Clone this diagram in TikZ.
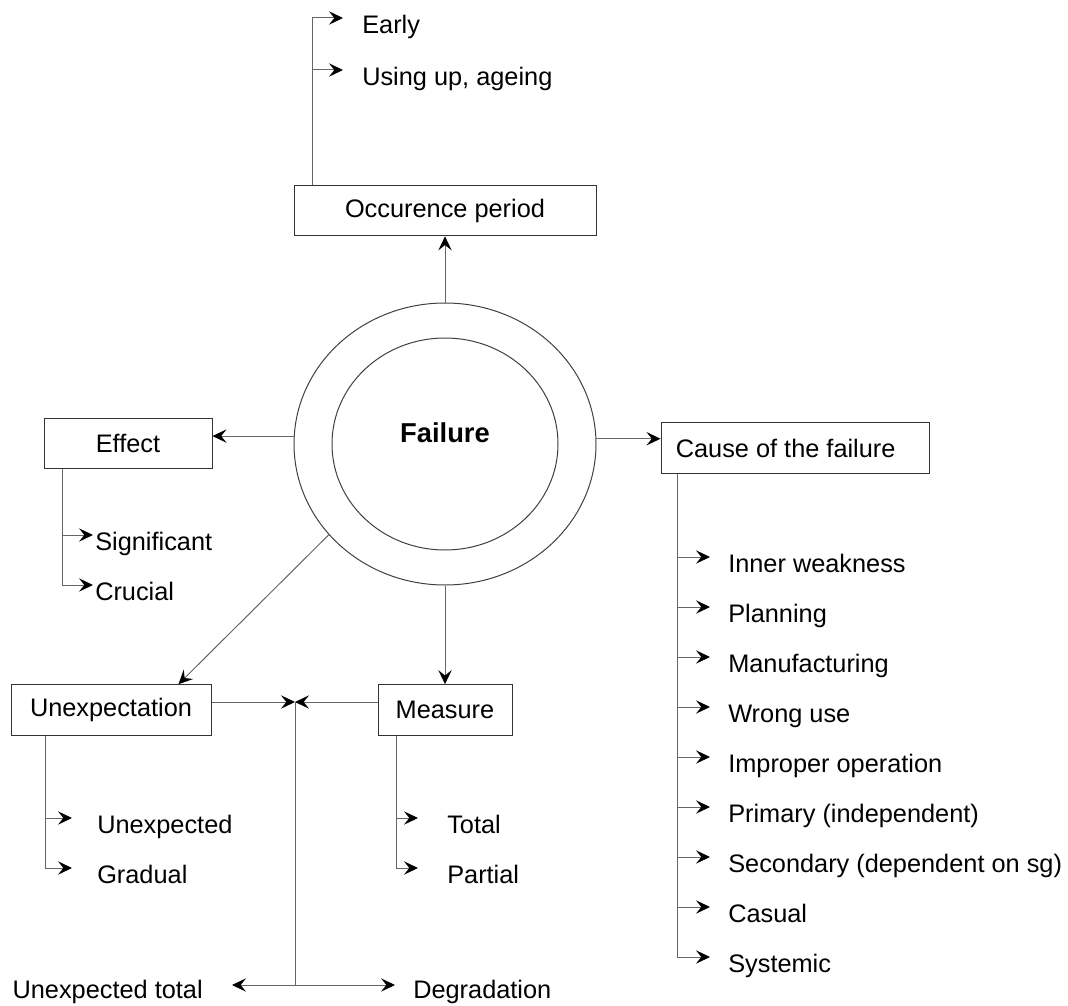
\documentclass[tikz,border=0pt]{standalone}
\usepackage{fontspec}
\setmainfont{Liberation Sans}
\usetikzlibrary{arrows.meta,shapes.geometric,calc}
\begin{document}
\begin{tikzpicture}[x=0.75pt,y=-0.75pt,
  conn/.style={draw=black!60, line width=0.75pt},
  arr/.style={conn, -{Stealth[length=10.5pt,width=10pt,inset=4pt,color=black]}},
  box/.style={draw=black!80, line width=0.75pt, minimum height=38pt, inner sep=0pt,
    font=\fontsize{19}{22}\selectfont},
  ring/.style={draw=black!75, line width=0.75pt, ellipse, inner sep=0pt},
  item/.style={anchor=mid west, inner sep=0pt, font=\fontsize{19}{22}\selectfont},
  itemr/.style={anchor=mid east, inner sep=0pt, font=\fontsize{19}{22}\selectfont}]
\useasboundingbox (0,0) rectangle (1068,1006);

% boxes
\node[box, minimum width=226.5pt] (occ) at (445,210.5) {Occurence period};
\node[box, minimum width=126pt] (eff) at (128,443.5) {Effect};
\node[box, minimum width=201pt] (cause) at (795,448) {Cause of the failure\hspace*{14pt}};
\node[box, minimum width=150pt] (unexp) at (111,710) {Unexpectation};
\node[box, minimum width=100.5pt] (meas) at (445,710) {Measure};

% central rings
\node[ring, minimum width=226.5pt, minimum height=211.5pt] (outer) at (445,444) {};
\node[ring, minimum width=169.5pt, minimum height=159pt] (inner) at (445,444) {};
\node[inner sep=0pt, font=\bfseries\fontsize{20.5}{24}\selectfont] (fail) at (445,433) {Failure};

% connectors from the ring
\draw[arr] (outer.north) -- (occ.south);
\draw[arr] (outer.177) -- (outer.177 -| eff.east);
\draw[arr] (outer.2) -- (outer.2 -| cause.west);
\draw[arr] (outer.218) -- ($(unexp.north east)+(-33,0)$);
\draw[arr] (outer.south) -- (meas.north);

% occurrence period items
\node[item] (early) at (362,30) {Early};
\node[item] (using) at (362,82) {Using up, ageing};
\draw[conn] (occ.north -| 312,0) -- ($(early.mid west)+(-50,-12)$);
\foreach \n in {early,using}
  \draw[arr] ($(\n.mid west)+(-50,-12)$) -- ($(\n.mid west)+(-19,-12)$);

% effect items
\node[item] (signif) at (95,547) {Significant};
\node[item] (cruc) at (95,597) {Crucial};
\draw[conn] (eff.south -| 62,0) -- ($(cruc.mid west)+(-33,-12)$);
\foreach \n in {signif,cruc}
  \draw[arr] ($(\n.mid west)+(-33,-12)$) -- ($(\n.mid west)+(-2,-12)$);

% cause items
\foreach \t [count=\i] in {Inner weakness,Planning,Manufacturing,Wrong use,Improper operation,Primary (independent),Secondary (dependent on sg),Casual,Systemic}
  \node[item] (c\i) at (728,{569+50*(\i-1)}) {\t};
\draw[conn] (cause.south -| 677,0) -- ($(c9.mid west)+(-51,-12)$);
\foreach \i in {1,...,9}
  \draw[arr] ($(c\i.mid west)+(-51,-12)$) -- ($(c\i.mid west)+(-18,-12)$);

% unexpectation items
\node[item] (unx) at (97,830) {Unexpected};
\node[item] (grad) at (97,880) {Gradual};
\draw[conn] (unexp.south -| 45,0) -- ($(grad.mid west)+(-52,-12)$);
\foreach \n in {unx,grad}
  \draw[arr] ($(\n.mid west)+(-52,-12)$) -- ($(\n.mid west)+(-25,-12)$);

% measure items
\node[item] (tot) at (447,830) {Total};
\node[item] (part) at (447,880) {Partial};
\draw[conn] (meas.south -| 396,0) -- ($(part.mid west)+(-51,-12)$);
\foreach \n in {tot,part}
  \draw[arr] ($(\n.mid west)+(-51,-12)$) -- ($(\n.mid west)+(-29,-12)$);

% junction between unexpectation and measure
\coordinate (J) at (295,702);
\coordinate (B) at (295,985);
\draw[arr] (unexp.east |- J) -- (J);
\draw[arr] (meas.west |- J) -- (J);
\draw[conn] (J) -- (B);
\node[itemr] (utot) at (203,995) {Unexpected total};
\node[item] (degr) at (413,995) {Degradation};
\draw[arr] (B) -- ($(utot.mid east)+(29,-10)$);
\draw[arr] (B) -- ($(degr.mid west)+(-18,-10)$);
\end{tikzpicture}
\end{document}
